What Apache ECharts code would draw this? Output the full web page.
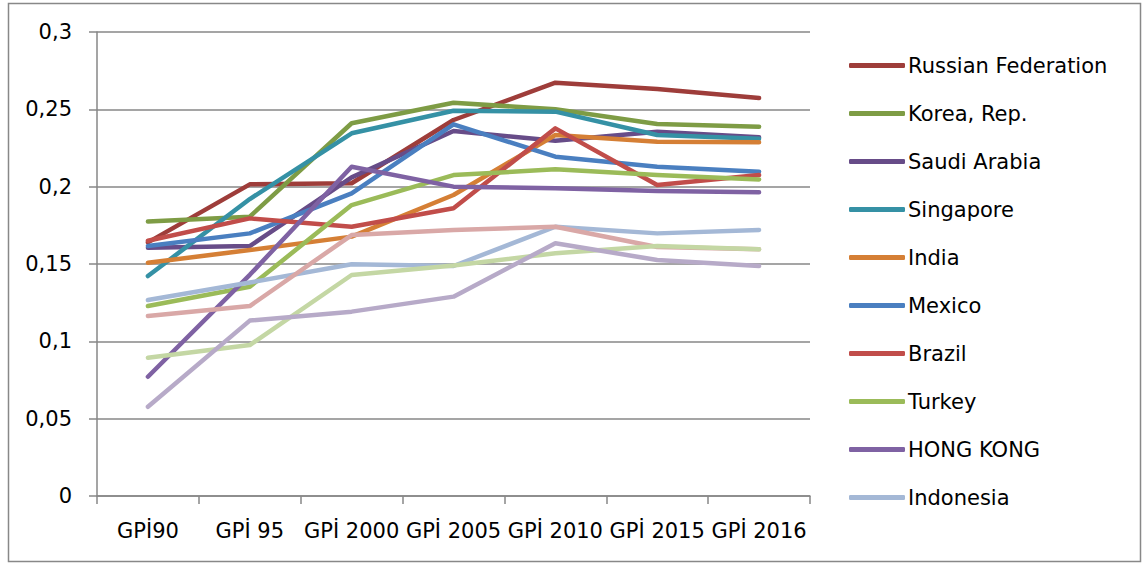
<!DOCTYPE html>
<html>
<head>
<meta charset="utf-8">
<script src="https://cdn.jsdelivr.net/npm/echarts@6/dist/echarts.min.js"></script>
<style>html,body{margin:0;padding:0;background:#fff}#c{width:1142px;height:565px}</style>
</head>
<body>
<div id="c"></div>
<script>
const categories = ['GPİ90', 'GPİ 95', 'GPİ 2000', 'GPİ 2005', 'GPİ 2010', 'GPİ 2015', 'GPİ 2016'];
const yTicks = [0, 0.05, 0.1, 0.15, 0.2, 0.25, 0.3];

const russia    = [0.164, 0.2015, 0.2022, 0.2431, 0.2672, 0.2631, 0.2573];
const korea     = [0.1774, 0.1806, 0.241, 0.2543, 0.250, 0.2405, 0.2388];
const saudi     = [0.1605, 0.1616, 0.206, 0.236, 0.2297, 0.2355, 0.2319];
const singapore = [0.1422, 0.192, 0.2345, 0.2491, 0.2485, 0.2334, 0.231];
const india     = [0.1508, 0.159, 0.1677, 0.1946, 0.2334, 0.2291, 0.2287];
const mexico    = [0.1616, 0.1698, 0.1957, 0.2403, 0.2194, 0.2129, 0.2097];
const brazil    = [0.165, 0.1795, 0.1741, 0.186, 0.2377, 0.2011, 0.2075];
const turkey    = [0.1228, 0.1353, 0.1881, 0.2075, 0.2112, 0.2075, 0.2047];
const hongKong  = [0.0771, 0.143, 0.2129, 0.200, 0.1989, 0.1972, 0.1964];
const indonesia = [0.1267, 0.138, 0.1498, 0.1487, 0.1741, 0.1698, 0.172];
const series11  = [0.1164, 0.1228, 0.1687, 0.172, 0.1741, 0.161, 0.1595];
const series12  = [0.0894, 0.0976, 0.1429, 0.149, 0.1569, 0.1616, 0.1595];
const series13  = [0.0577, 0.1134, 0.1192, 0.1289, 0.1634, 0.1526, 0.1487];

const names = ['Russian Federation', 'Korea, Rep.', 'Saudi Arabia', 'Singapore', 'India', 'Mexico', 'Brazil', 'Turkey', 'HONG KONG', 'Indonesia', 'Series 11', 'Series 12', 'Series 13'];
const values = [russia, korea, saudi, singapore, india, mexico, brazil, turkey, hongKong, indonesia, series11, series12, series13];
const colors = ['#9E3D3A', '#7E9C45', '#674C88', '#3591A5', '#D57F35', '#4A7FC0', '#C14D4A', '#9BBB59', '#7F62A3', '#A4B8D6', '#D9A8A7', '#C4D7A4', '#B7AAC8'];
const legendNames = names.slice(0, 10);

const FONT = 'DejaVu Sans';
const chart = echarts.init(document.getElementById('c'), null, {renderer: 'svg'});
chart.setOption({
  animation: false,
  backgroundColor: '#fff',
  color: colors,
  grid: {left: 97, right: 332, top: 32, bottom: 69, containLabel: false},
  legend: {
    data: legendNames.map(n => ({name: n, icon: 'roundRect'})),
    orient: 'vertical',
    left: 844,
    top: 50,
    itemWidth: 56,
    itemHeight: 5,
    itemGap: 27,
    textStyle: {fontFamily: FONT, fontSize: 21, color: '#000', padding: [0, 0, 0, -2]}
  },
  xAxis: {
    type: 'category',
    data: categories,
    boundaryGap: true,
    axisLine: {lineStyle: {color: '#878787', width: 1.5}},
    axisTick: {show: true, length: 8, interval: 0, lineStyle: {color: '#878787', width: 1.5}},
    axisLabel: {fontFamily: FONT, fontSize: 21, color: '#000', margin: 24, interval: 0}
  },
  yAxis: {
    type: 'value',
    min: yTicks[0],
    max: yTicks[yTicks.length - 1],
    interval: 0.05,
    axisLine: {show: true, lineStyle: {color: '#878787', width: 1.5}},
    axisTick: {show: true, length: 8, lineStyle: {color: '#878787', width: 1.5}},
    splitLine: {show: true, lineStyle: {color: '#878787', width: 1.5}},
    axisLabel: {fontFamily: FONT, fontSize: 21, color: '#000', margin: 25,
      formatter: v => String(+v.toFixed(2)).replace('.', ',')}
  },
  graphic: [{
    type: 'rect', silent: true,
    shape: {x: 8.5, y: 3.5, width: 1132, height: 558},
    style: {fill: 'none', stroke: '#888', lineWidth: 1.5}
  }],
  series: names.map((n, i) => ({
    name: n, type: 'line', data: values[i], symbol: 'none', smooth: false,
    lineStyle: {width: 4.5, color: colors[i], cap: 'round', join: 'round'},
    itemStyle: {color: colors[i]}
  }))
});
</script>
</body>
</html>
